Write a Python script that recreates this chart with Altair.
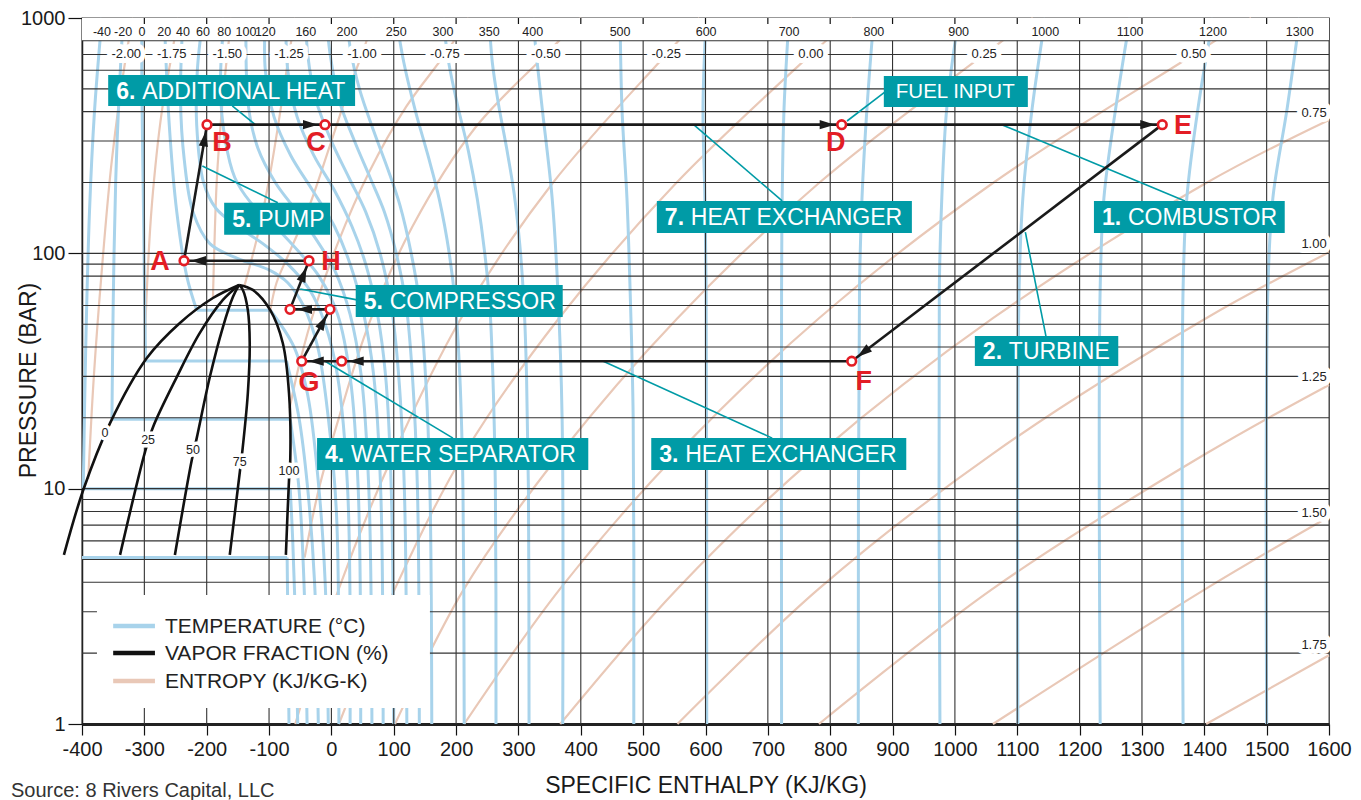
import math
import altair as alt
import pandas as pd

# ---------------- frame / style ----------------
W, H = 1247, 706
X_DOMAIN = [-400, 1600]
Y_DOMAIN = [1, 1000]

RED = "#e31d25"
TEAL = "#009ba6"
BLUE = "#a8d3eb"
TAN = "#e9c8b7"
INK = "#1a1a1a"
GRID = "#333333"
NARROW = "Liberation Sans Narrow, Arial Narrow, Liberation Sans, Arial, sans-serif"
SANS = "Liberation Sans, Arial, Helvetica, sans-serif"

KINDS = ["TEMPERATURE (°C)", "VAPOR FRACTION (%)", "ENTROPY (KJ/KG-K)"]
KIND_COLORS = [BLUE, "#111111", TAN]

# ---------------- isotherms (h kJ/kg, P bar) ----------------
sub_T = [-56, -40, -20, 0, 20]
sub_vapour = {
    -56: [(-68, 1), (-70, 3), (-71, 5.1)],
    -40: [(-54, 1), (-58, 3), (-62, 6), (-66, 10)],
    -20: [(-39, 1), (-44, 4), (-52, 10), (-66, 19.7)],
    0: [(-21, 1), (-27, 4), (-38, 10), (-52, 20), (-72, 34.9)],
    20: [(-5, 1), (-10, 4), (-20, 10), (-38, 25), (-60, 40), (-98, 57.3)],
}
sub_flat = {
    -56: [(-71, 5.1), (-400, 5.1)],
    -40: [(-66, 10), (-398, 10)],
    -20: [(-66, 19.7), (-352, 19.7)],
    0: [(-72, 34.9), (-298, 34.9)],
    20: [(-98, 57.3), (-216, 57.3)],
}
sub_liquid = {
    -40: [(-398, 10), (-394, 40), (-388, 150), (-380, 400), (-368, 1000)],
    -20: [(-352, 19.7), (-350, 60), (-346, 200), (-340, 500), (-334, 1000)],
    0: [(-298, 34.9), (-300, 80), (-302, 200), (-304, 500), (-304, 1000)],
    20: [(-216, 57.3), (-232, 80), (-248, 150), (-260, 350), (-268, 1000)],
}
super_iso = {
    40: [(12, 1), (8, 8), (-5, 20), (-22, 40), (-45, 60), (-70, 75), (-100, 85), (-150, 95),
         (-195, 110), (-222, 150), (-236, 250), (-242, 450), (-238, 1000)],
    60: [(30, 1), (26, 10), (10, 30), (-10, 50), (-35, 70), (-70, 90), (-110, 110), (-150, 130),
         (-185, 155), (-205, 200), (-216, 350), (-215, 600), (-206, 1000)],
    80: [(47, 1), (43, 10), (30, 30), (10, 55), (-20, 80), (-50, 100), (-90, 130), (-130, 165),
         (-155, 210), (-170, 300), (-178, 500), (-172, 1000)],
    100: [(65, 1), (60, 10), (48, 30), (30, 55), (5, 85), (-20, 110), (-55, 150), (-90, 200),
          (-118, 280), (-133, 420), (-137, 1000)],
    120: [(83, 1), (79, 10), (68, 30), (52, 55), (30, 90), (5, 130), (-30, 185), (-65, 260),
          (-92, 380), (-106, 600), (-106, 1000)],
    140: [(100, 1), (96, 10), (87, 30), (74, 55), (55, 90), (33, 130), (5, 185), (-28, 260),
          (-55, 380), (-70, 600), (-73, 1000)],
    160: [(121, 1), (117, 10), (108, 30), (96, 60), (78, 100), (55, 150), (28, 210), (0, 300),
          (-25, 450), (-38, 700), (-41, 1000)],
    180: [(141, 1), (138, 10), (130, 30), (120, 60), (104, 100), (85, 150), (62, 210), (37, 300),
          (12, 450), (-2, 700), (-8, 1000)],
    200: [(161, 1), (158, 10), (151, 30), (142, 60), (128, 100), (110, 160), (90, 230), (68, 330),
          (45, 500), (30, 750), (25, 1000)],
    250: [(213, 1), (211, 10), (206, 30), (199, 60), (189, 100), (173, 170), (155, 260), (135, 400),
          (116, 650), (104, 1000)],
    300: [(264, 1), (263, 10), (259, 30), (254, 60), (246, 100), (234, 170), (220, 270), (202, 430),
          (188, 650), (179, 1000)],
    350: [(317, 1), (316, 10), (313, 30), (309, 60), (302, 110), (293, 180), (281, 280), (268, 430),
          (258, 650), (253, 1000)],
    400: [(371, 1), (370, 20), (363, 71), (354, 172), (338, 415), (330, 650), (323, 1000)],
    500: [(485, 1), (484, 20), (479, 71), (474, 172), (466, 415), (463, 1000)],
    600: [(602, 1), (601, 71), (599, 172), (596, 415), (601, 1000)],
    700: [(722, 1), (722, 71), (723, 172), (726, 415), (734, 1000)],
    800: [(845, 1), (847, 71), (851, 172), (859, 415), (870, 1000)],
    900: [(976, 1), (975, 71), (979, 172), (987, 415), (1006, 1000)],
    1000: [(1101, 1), (1103, 71), (1109, 172), (1124, 415), (1145, 1000)],
    1100: [(1233, 1), (1233, 71), (1239, 172), (1258, 415), (1281, 1000)],
    1200: [(1366, 1), (1366, 71), (1372, 172), (1390, 415), (1414, 1000)],
    1300: [(1500, 1), (1502, 71), (1510, 172), (1533, 415), (1553, 1000)],
}
iso_label_T = [-40, -20, 0, 20, 40, 60, 80, 100, 120, 160, 200, 250, 300, 350, 400,
               500, 600, 700, 800, 900, 1000, 1100, 1200, 1300]
ISO_LABEL_P = 872

# ---------------- isentropes (kJ/kg-K) ----------------
ent_curves = {
    "-2.00": [(-390, 11), (-381, 30), (-369, 80), (-352, 250), (-329, 700), (-318, 1000)],
    "-1.75": [(-300, 35), (-296, 70), (-288, 160), (-272, 400), (-256, 700), (-246, 1000)],
    "-1.50": [(-190, 64.6), (-188, 100), (-184, 200), (-176, 400), (-167, 700), (-160, 1000)],
    "-1.25": [(-140, 72), (-130, 90), (-115, 130), (-98, 220), (-82, 400), (-68, 700), (-58, 1000)],
    "-1.00": [(-98, 57.4), (-88, 75), (-68, 100), (-35, 160), (0, 300), (28, 500), (49, 700), (68, 1000)],
    "-0.75": [(-67, 22), (-50, 35), (-25, 60), (10, 110), (60, 220), (120, 420), (182, 700), (220, 1000)],
    "-0.50": [(-43, 5.1), (-20, 10), (12, 20), (60, 50), (130, 130), (230, 340), (344, 700), (400, 1000)],
    "-0.25": [(-58, 1), (12, 3.76), (100, 14.1), (208, 53), (355, 199), (537, 700), (590, 1000)],
    "0.00": [(12, 1), (102, 3.76), (213, 14.1), (365, 53), (553, 199), (769, 700), (835, 1000)],
    "0.25": [(102, 1), (213, 3.76), (367, 14.1), (555, 53), (782, 199), (1047, 700), (1125, 1000)],
    "0.50": [(213, 1), (367, 3.76), (555, 14.1), (782, 53), (1061, 199), (1383, 700), (1475, 1000)],
    "0.75": [(367, 1), (555, 3.76), (782, 14.1), (1061, 53), (1403, 199), (1600, 369)],
    "1.00": [(555, 1), (782, 3.76), (1061, 14.1), (1403, 53), (1600, 101)],
    "1.25": [(782, 1), (1061, 3.76), (1403, 14.1), (1600, 27.6)],
    "1.50": [(1061, 1), (1403, 3.76), (1600, 7.6)],
    "1.75": [(1403, 1), (1600, 1.96)],
}
ENT_ROW_P = 700
ent_right_labels = ["0.75", "1.00", "1.25", "1.50", "1.75"]
ent_right_P = [396, 110, 29.8, 7.9, 2.17]
ENT_RIGHT_H = 1576

# ---------------- vapor fraction (%) ----------------
vap_curves = {
    "0": [(-429, 5.23), (-398, 9.87), (-355, 19.0), (-296, 35.9), (-243, 50.6), (-190, 64.6), (-148, 73.4)],
    "25": [(-339, 5.23), (-299, 14.3), (-286, 18.3), (-248, 29.8), (-211, 45.9), (-174, 63.4), (-148, 73.4)],
    "50": [(-251, 5.23), (-224, 13.2), (-216, 16.4), (-195, 29.8), (-174, 48.6), (-158, 65.2), (-148, 73.4)],
    "75": [(-163, 5.23), (-147, 11.7), (-143, 14.3), (-134, 25.5), (-131, 41.6), (-134, 57.4), (-142, 69.9), (-148, 73.4)],
    "100": [(-73, 5.23), (-68, 10.9), (-66, 13.2), (-68, 25.5), (-78, 41.6), (-98, 57.4), (-126, 69.9), (-148, 73.4)],
}
vap_labels = ["0", "25", "50", "75", "100"]
vap_label_h = [-363, -294, -222, -147, -68]
vap_label_P = [17.2, 16.1, 14.6, 13.0, 11.9]

# ---------------- grid ----------------
grid_h = [-300, -200, -100, 0, 100, 200, 300, 400, 500, 600, 700, 800, 900, 1000, 1100, 1200, 1300, 1400, 1500]
grid_P = [2, 3, 4, 5, 6, 7, 8, 9, 10, 20, 30, 40, 50, 60, 70, 80, 90, 100, 200, 300, 400, 500, 600, 700, 800]
TOP_STRIP = (800, 1000)
TOP_TICK_P = 943

# ---------------- legend box (inside plot, lower left) ----------------
legend_box_h = (-376, 158)
legend_box_P = (1.17, 3.53)
legend_row_P = [2.61, 2.003, 1.523]
legend_line_h = (-350, -283)
legend_text_h = -267

# ---------------- cycle states ----------------
state_names = ["A", "B", "C", "D", "E", "F", "G", "G2", "M1", "M2", "H"]
state_h = [-236.4, -199.5, -10.3, 818.4, 1332.6, 834.5, -47.6, 16.5, -66.4, -2.3, -35.9]
state_P = [93.0, 352.2, 352.2, 352.2, 352.2, 34.8, 34.8, 34.8, 57.8, 57.8, 93.0]
cycle_path = ["H", "A", "B", "C", "D", "E", "F", "G2", "G", "M2", "M1", "H"]
letter_text = ["A", "H", "B", "C", "D", "E", "F", "G"]
letter_h = [-275, -0.7, -175.5, -24.7, 809, 1366, 854, -36]
letter_P = [91.9, 91.9, 294, 294, 294, 347.6, 28.4, 28.1]

# ---------------- callouts ----------------
box_num = ["6.", "", "5.", "7.", "1.", "2.", "5.", "4.", "3."]
box_text = ["ADDITIONAL HEAT", "FUEL INPUT", "PUMP", "HEAT EXCHANGER", "COMBUSTOR",
            "TURBINE", "COMPRESSOR", "WATER SEPARATOR", "HEAT EXCHANGER"]
box_h0 = [-358, 886, -172, 522, 1223, 1032, 39, -23, 513]
box_h1 = [38, 1117, -2, 931, 1529, 1262, 371, 412, 922]
box_P0 = [572, 567, 164, 167, 167, 44.5, 73.4, 16.4, 16.4]
box_P1 = [423, 419, 120, 122, 122, 33.2, 53.6, 12.0, 12.0]
lead_h0 = [-159, 888, -86, 723, 1369, 1146, 41, 195, 707]
lead_P0 = [423, 485, 164, 167, 167, 44.5, 63.4, 16.4, 16.4]
lead_h1 = [-122, 827, -207, 581, 1075, 1113, -50, -10, 436]
lead_P1 = [352.2, 365, 235, 352.2, 352.2, 123, 70.6, 34.8, 34.8]

SOURCE = "Source: 8 Rivers Capital, LLC"

# ================= build tables =================
def curve_rows(kind, name, seg, pts):
    return [dict(kind=kind, cid=f"{name}|{seg}", i=k, h=h, P=p) for k, (h, p) in enumerate(pts)]

iso_rows = []
for t in sub_T:
    iso_rows += curve_rows(KINDS[0], t, "v", sub_vapour[t])
    iso_rows += curve_rows(KINDS[0], t, "f", sub_flat[t])
    if t in sub_liquid:
        iso_rows += curve_rows(KINDS[0], t, "l", sub_liquid[t])
for t, pts in super_iso.items():
    iso_rows += curve_rows(KINDS[0], t, "s", pts)
iso_df = pd.DataFrame(iso_rows)

top_h = {t: sub_liquid[t][-1][0] for t in sub_liquid}
top_h.update({t: pts[-1][0] for t, pts in super_iso.items()})
iso_lab_df = pd.DataFrame({"label": [str(t) for t in iso_label_T],
                           "h": [top_h[t] for t in iso_label_T],
                           "P": [ISO_LABEL_P] * len(iso_label_T)})

ent_rows = []
for s, pts in ent_curves.items():
    ent_rows += curve_rows(KINDS[2], s, "e", pts)
ent_df = pd.DataFrame(ent_rows)
ent_lab = [(s, h) for s, pts in ent_curves.items() for (h, p) in pts if p == ENT_ROW_P]
ent_lab_df = pd.DataFrame({"label": [a for a, _ in ent_lab] + ent_right_labels,
                           "h": [b for _, b in ent_lab] + [ENT_RIGHT_H] * len(ent_right_labels),
                           "P": [ENT_ROW_P] * len(ent_lab) + ent_right_P})

vap_rows = []
for v, pts in vap_curves.items():
    vap_rows += curve_rows(KINDS[1], v, "q", pts)
vap_df = pd.DataFrame(vap_rows)
vap_lab_df = pd.DataFrame({"label": vap_labels, "h": vap_label_h, "P": vap_label_P})

vgrid_df = pd.DataFrame({"h": grid_h, "P": [1] * len(grid_h), "P2": [TOP_STRIP[0]] * len(grid_h)})
tick_df = pd.DataFrame({"h": grid_h, "P": [Y_DOMAIN[1]] * len(grid_h), "P2": [TOP_TICK_P] * len(grid_h)})
hgrid_df = pd.DataFrame({"P": grid_P})
strip_df = pd.DataFrame({"h": [X_DOMAIN[0]], "h2": [X_DOMAIN[1]], "P": [TOP_STRIP[0]], "P2": [TOP_STRIP[1]]})

leg_box_df = pd.DataFrame({"h": [legend_box_h[0]], "h2": [legend_box_h[1]],
                           "P": [legend_box_P[0]], "P2": [legend_box_P[1]]})
leg_df = pd.DataFrame({"kind": KINDS, "P": legend_row_P,
                       "h": [legend_line_h[0]] * 3, "h2": [legend_line_h[1]] * 3,
                       "ht": [legend_text_h] * 3})

st = {n: (h, p) for n, h, p in zip(state_names, state_h, state_P)}
state_df = pd.DataFrame({"name": state_names, "h": state_h, "P": state_P})


def to_px(h, p):
    return (h - X_DOMAIN[0]) / (X_DOMAIN[1] - X_DOMAIN[0]) * W, (3 - math.log10(p)) / 3 * H


def from_px(x, y):
    return x / W * (X_DOMAIN[1] - X_DOMAIN[0]) + X_DOMAIN[0], 10 ** (3 - y / H * 3)


seg_rows, head_rows = [], []
for a, b in zip(cycle_path[:-1], cycle_path[1:]):
    (h1, p1), (h2, p2) = st[a], st[b]
    seg_rows.append(dict(h=h1, P=p1, h2=h2, P2=p2))
    x1, y1 = to_px(h1, p1)
    x2, y2 = to_px(h2, p2)
    L = math.hypot(x2 - x1, y2 - y1)
    ux, uy = (x2 - x1) / L, (y2 - y1) / L
    hh, pp = from_px(x2 - ux * 14.5, y2 - uy * 14.5)
    head_rows.append(dict(h=hh, P=pp, ang=math.degrees(math.atan2(uy, ux)) % 360))
seg_df = pd.DataFrame(seg_rows)
head_df = pd.DataFrame(head_rows)
letter_df = pd.DataFrame({"label": letter_text, "h": letter_h, "P": letter_P})

box_df = pd.DataFrame({"num": box_num, "text": box_text, "h": box_h0, "h2": box_h1,
                       "P": box_P0, "P2": box_P1})
box_df["Pc"] = (box_df["P"] * box_df["P2"]) ** 0.5
lead_df = pd.DataFrame({"h": lead_h0, "P": lead_P0, "h2": lead_h1, "P2": lead_P1})

# ================= encodings =================
X_AXIS = alt.Axis(values=list(range(-400, 1601, 100)), labelExpr="'' + datum.value",
                  title="SPECIFIC ENTHALPY (KJ/KG)", labelFont=NARROW, labelFontSize=20,
                  labelColor=INK, tickSize=11, tickColor="#111", tickWidth=1.2,
                  domainColor="#222", domainWidth=3, grid=False, labelPadding=4,
                  labelOverlap=False, labelFlush=False, titleFont=SANS, titleFontSize=23,
                  titleFontWeight="normal", titleColor=INK, titleY=61, titleBaseline="middle")
Y_AXIS = alt.Axis(values=[1, 10, 100, 1000], labelExpr="'' + datum.value",
                  title="PRESSURE (BAR)", labelFont=NARROW, labelFontSize=20, labelColor=INK,
                  tickSize=14, tickColor="#111", tickWidth=1.2, domainColor="#222",
                  domainWidth=1.5, grid=False, labelPadding=3, titleFont=SANS,
                  titleFontSize=23, titleFontWeight="normal", titleColor=INK,
                  titleX=-54, titleY=362, titleAngle=270, titleBaseline="middle")
XS = alt.Scale(domain=X_DOMAIN, nice=False, zero=False)
YS = alt.Scale(type="log", domain=Y_DOMAIN, nice=False)


def X(f="h"):
    return alt.X(f"{f}:Q", scale=XS, axis=X_AXIS)


def Y(f="P"):
    return alt.Y(f"{f}:Q", scale=YS, axis=Y_AXIS)


COLOR = alt.Color("kind:N", scale=alt.Scale(domain=KINDS, range=KIND_COLORS), legend=None)


def line_layer(df, width):
    return alt.Chart(df).mark_line(interpolate="catmull-rom", strokeWidth=width).encode(
        x=X(), y=Y(), color=COLOR, detail="cid:N", order="i:Q")


def halo_text(df, size, font=NARROW, halo=7):
    base = alt.Chart(df).encode(x=X(), y=Y(), text="label:N")
    return (base.mark_text(font=font, fontSize=size, fill="white", stroke="white",
                           strokeWidth=halo, strokeJoin="round")
            + base.mark_text(font=font, fontSize=size, color="#222"))


ent_layer = line_layer(ent_df, 2.2)
iso_layer = line_layer(iso_df, 3)
strip = alt.Chart(strip_df).mark_rect(color="white").encode(x=X(), x2="h2:Q", y=Y(), y2="P2:Q")
vgrid = alt.Chart(vgrid_df).mark_rule(color=GRID, strokeWidth=1.1).encode(x=X(), y=Y(), y2="P2:Q")
hgrid = alt.Chart(hgrid_df).mark_rule(color=GRID, strokeWidth=1.1).encode(y=Y())
ticks = alt.Chart(tick_df).mark_rule(color="#111", strokeWidth=1.2).encode(x=X(), y=Y(), y2="P2:Q")
vap_layer = line_layer(vap_df, 2.6)

iso_labels = halo_text(iso_lab_df, 12.5, halo=3)
ent_labels = halo_text(ent_lab_df, 13, halo=10)
vap_labels_l = halo_text(vap_lab_df, 12.5, halo=7)

# legend drawn inside the plot
leg_box = alt.Chart(leg_box_df).mark_rect(color="white").encode(x=X(), x2="h2:Q", y=Y(), y2="P2:Q")
leg_lines = alt.Chart(leg_df).mark_rule(strokeWidth=4.5).encode(
    x=X(), x2="h2:Q", y=Y(), color=COLOR)
leg_text = alt.Chart(leg_df).mark_text(font=SANS, fontSize=21, color="#222", align="left",
                                       baseline="middle", dy=1).encode(
    x=X("ht"), y=Y(), text="kind:N")

leaders = alt.Chart(lead_df).mark_rule(color=TEAL, strokeWidth=1.6).encode(
    x=X(), y=Y(), x2="h2:Q", y2="P2:Q")
boxes = alt.Chart(box_df).mark_rect(color=TEAL).encode(x=X(), x2="h2:Q", y=Y(), y2="P2:Q")
box_num_t = alt.Chart(box_df).transform_filter("datum.num != ''").mark_text(
    font=SANS, fontSize=23, fontWeight="bold", color="white", align="left", dx=8,
    baseline="middle", dy=1).encode(x=X(), y=Y("Pc"), text="num:N")
box_txt_n = alt.Chart(box_df).transform_filter("datum.num != ''").mark_text(
    font=SANS, fontSize=23, color="white", align="left", dx=34, baseline="middle",
    dy=1).encode(x=X(), y=Y("Pc"), text="text:N")
box_txt_p = alt.Chart(box_df).transform_filter("datum.num == ''").mark_text(
    font=SANS, fontSize=20.5, color="white", align="left", dx=12, baseline="middle",
    dy=1).encode(x=X(), y=Y("Pc"), text="text:N")

cycle = alt.Chart(seg_df).mark_rule(color=INK, strokeWidth=2.6).encode(
    x=X(), y=Y(), x2="h2:Q", y2="P2:Q")
heads = alt.Chart(head_df).mark_point(shape="M -1 -0.62 L 1 0 L -1 0.62 Z", size=225,
                                      filled=True, color=INK, opacity=1).encode(
    x=X(), y=Y(), angle=alt.Angle("ang:Q", scale=None))
circles = alt.Chart(state_df).mark_point(shape="circle", size=75, fill="white", stroke=RED,
                                         strokeWidth=2.6, opacity=1, fillOpacity=1).encode(
    x=X(), y=Y())
letters = alt.Chart(letter_df).mark_text(font=SANS, fontSize=27, fontWeight="bold", color=RED,
                                         align="center", baseline="middle").encode(
    x=X(), y=Y(), text="label:N")
source = alt.Chart(pd.DataFrame({"label": [SOURCE]})).mark_text(
    font=SANS, fontSize=20, color="#333", align="left", baseline="top").encode(
    x=alt.value(-71), y=alt.value(763), text="label:N")

chart = alt.layer(
    ent_layer, iso_layer, strip, vgrid, hgrid, ticks, vap_layer,
    iso_labels, ent_labels, vap_labels_l,
    leg_box, leg_lines, leg_text,
    leaders, boxes, box_num_t, box_txt_n, box_txt_p,
    cycle, heads, circles, letters, source,
).properties(
    width=W, height=H,
    autosize=alt.AutoSizeParams(type="none"),
    padding={"left": 74, "top": 10, "right": 24, "bottom": 76},
    background="white",
).configure_view(stroke="#333", strokeWidth=1.3)

chart.save("out.html", embed_options={"renderer": "svg", "actions": False})
